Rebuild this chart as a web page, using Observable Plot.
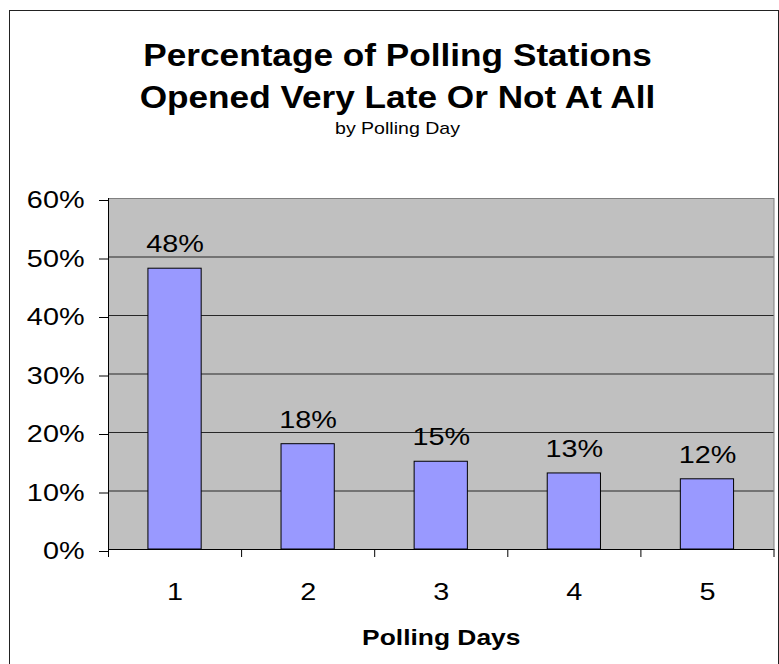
<!DOCTYPE html>
<html>
<head>
<meta charset="utf-8">
<script src="https://cdn.jsdelivr.net/npm/d3@7"></script>
<script src="https://cdn.jsdelivr.net/npm/@observablehq/plot@0.6"></script>
<style>
  html, body { margin: 0; padding: 0; background: #fff; overflow: hidden; }
  body { width: 779px; height: 664px; position: relative; font-family: "Liberation Sans", Arial, sans-serif; color: #000; }
  #frame { position: absolute; left: 9px; top: 10px; width: 770px; height: 700px; border: 1px solid #222; box-sizing: border-box; }
  #title { position: absolute; left: 0; top: 34px; width: 795px; text-align: center; font-size: 32px; font-weight: bold; line-height: 42px; transform: scaleX(1.1); transform-origin: center; white-space: nowrap; }
  #subtitle { position: absolute; left: 0; top: 119px; width: 795px; text-align: center; font-size: 17px; line-height: 20px; transform: scaleX(1.15); transform-origin: center; white-space: nowrap; }
  #chart { position: absolute; left: 0; top: 140px; }
</style>
</head>
<body>
<div id="frame"></div>
<div id="title"></div>
<div id="subtitle"></div>
<div id="chart"></div>
<script>
// ---- data ----
const titleLines = ["Percentage of Polling Stations", "Opened Very Late Or Not At All"];
const subtitle = "by Polling Day";
const xLabel = "Polling Days";
const days = [1, 2, 3, 4, 5];
const values = [48, 18, 15, 13, 12];
const yTicks = [0, 10, 20, 30, 40, 50, 60];
const gridTicks = [10, 20, 30, 40, 50];
const bandEdges = [0.5, 1.5, 2.5, 3.5, 4.5, 5.5];

const data = days.map((d, i) => ({day: d, value: values[i]}));

document.getElementById("title").innerHTML = titleLines.join("<br>");
document.getElementById("subtitle").textContent = subtitle;

const chart = Plot.plot({
  width: 779,
  height: 524,
  marginTop: 58,
  marginBottom: 115,
  marginLeft: 108,
  marginRight: 5.5,
  style: {fontFamily: "'Liberation Sans', Arial, sans-serif", fontSize: "24px", background: "transparent", color: "#000"},
  x: {domain: [0.5, 5.5], label: null},
  y: {domain: [0, 60], label: null},
  marks: [
    Plot.frame({fill: "#c0c0c0", stroke: "#808080"}),
    Plot.gridY(gridTicks, {stroke: "#000", strokeOpacity: 0.8}),
    Plot.rectY(data, {x1: d => d.day - 0.2, x2: d => d.day + 0.2, y: "value", fill: "#9999ff", stroke: "#000", strokeWidth: 1}),
    Plot.text(data, {x: "day", y: "value", text: d => d.value + "%", dy: -16.5, lineAnchor: "bottom", fontSize: 24, fill: "#000"}),
    Plot.ruleX([0.5], {stroke: "#000"}),
    Plot.ruleY([0], {stroke: "#000"}),
    Plot.axisY(yTicks, {tickSize: 9, tickPadding: 15, tickFormat: d => d + "%", fontSize: 24, dy: 2, label: null}),
    Plot.axisX(bandEdges, {tickSize: 8, tickFormat: () => "", label: null}),
    Plot.axisX(days, {tickSize: 0, tickPadding: 33, tickFormat: d => String(d), fontSize: 24, label: null}),
    Plot.text([xLabel], {frameAnchor: "bottom", dy: 95.3, lineAnchor: "bottom", fontSize: 22, fontWeight: "bold", fill: "#000"})
  ]
});

document.getElementById("chart").appendChild(chart);

// horizontally widen glyphs (the reference text is drawn stretched)
const k = 1.2;
chart.querySelectorAll("text").forEach(el => {
  const x = +el.getAttribute("x") || 0;
  const t = el.getAttribute("transform") || "";
  el.setAttribute("transform", `${t} translate(${x},0) scale(${k},1) translate(${-x},0)`);
});
</script>
</body>
</html>
